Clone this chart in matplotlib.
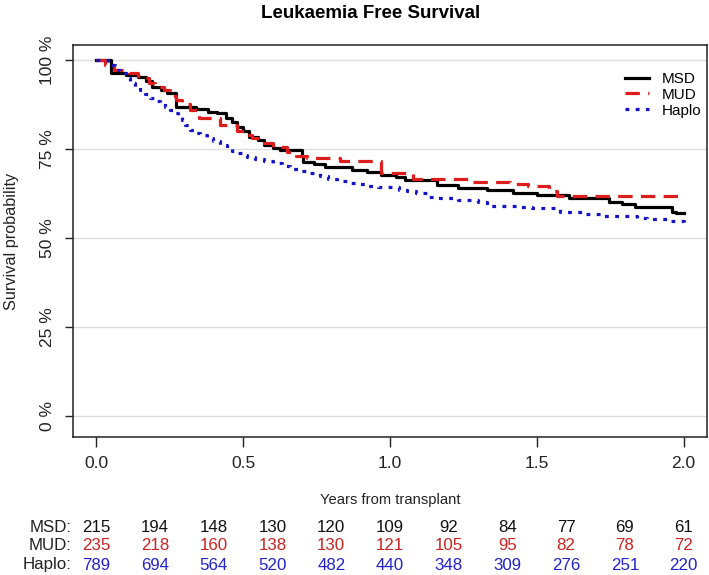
import numpy as np
import matplotlib
matplotlib.use('Agg')
from matplotlib import pyplot as plt
from matplotlib import transforms

plt.rcParams['font.family'] = ['Liberation Sans', 'DejaVu Sans']

# Kaplan-Meier steps (years, survival)
msd_t = [0, 0.05, 0.10, 0.14, 0.17, 0.19, 0.22, 0.24, 0.27, 0.34, 0.38, 0.41, 0.44,
         0.46, 0.48, 0.50, 0.52, 0.55, 0.57, 0.60, 0.625, 0.70, 0.705, 0.74, 0.78,
         0.87, 0.92, 0.97, 1.02, 1.05, 1.16, 1.23, 1.33, 1.42, 1.50, 1.61, 1.745,
         1.79, 1.835, 1.96, 1.975, 2.0]
msd_s = [1.0, 0.963, 0.958, 0.953, 0.94, 0.925, 0.915, 0.906, 0.869, 0.862, 0.855,
         0.85, 0.836, 0.825, 0.813, 0.80, 0.785, 0.775, 0.761, 0.752, 0.747, 0.73,
         0.714, 0.707, 0.70, 0.691, 0.686, 0.677, 0.67, 0.663, 0.649, 0.640, 0.635,
         0.627, 0.621, 0.611, 0.602, 0.595, 0.586, 0.574, 0.569, 0.569]

mud_t = [0, 0.03, 0.06, 0.11, 0.14, 0.16, 0.18, 0.20, 0.23, 0.25, 0.27, 0.29, 0.32,
         0.35, 0.42, 0.48, 0.51, 0.53, 0.557, 0.60, 0.648, 0.68, 0.716, 0.83, 0.97,
         1.08, 1.27, 1.41, 1.47, 1.54, 1.57, 2.0]
mud_s = [1.0, 0.985, 0.972, 0.963, 0.955, 0.948, 0.934, 0.925, 0.916, 0.90, 0.888,
         0.875, 0.86, 0.838, 0.817, 0.80, 0.79, 0.78, 0.766, 0.756, 0.742, 0.73,
         0.724, 0.717, 0.683, 0.667, 0.658, 0.652, 0.646, 0.632, 0.617, 0.617]

haplo_t = [0, 0.04, 0.063, 0.08, 0.10, 0.114, 0.13, 0.148, 0.165, 0.182, 0.20, 0.216,
           0.235, 0.25, 0.265, 0.279, 0.29, 0.30, 0.318, 0.335, 0.353, 0.375, 0.398,
           0.42, 0.444, 0.46, 0.478, 0.495, 0.512, 0.54, 0.57, 0.602, 0.631, 0.659,
           0.693, 0.727, 0.76, 0.79, 0.818, 0.852, 0.886, 0.926, 0.96, 1.03, 1.057,
           1.09, 1.125, 1.16, 1.232, 1.30, 1.33, 1.443, 1.485, 1.58, 1.659, 1.73,
           1.84, 1.875, 1.954, 2.0]
haplo_s = [1.0, 0.985, 0.972, 0.963, 0.948, 0.934, 0.925, 0.916, 0.904, 0.892, 0.885,
           0.878, 0.868, 0.86, 0.85, 0.841, 0.83, 0.817, 0.803, 0.796, 0.789, 0.78,
           0.771, 0.762, 0.752, 0.745, 0.738, 0.733, 0.728, 0.721, 0.715, 0.71, 0.702,
           0.693, 0.688, 0.682, 0.674, 0.666, 0.661, 0.655, 0.652, 0.647, 0.642,
           0.635, 0.632, 0.625, 0.616, 0.611, 0.607, 0.602, 0.591, 0.586, 0.583,
           0.572, 0.567, 0.563, 0.555, 0.552, 0.548, 0.546]

groups = ['MSD', 'MUD', 'Haplo']
line_cols = ['black', '#dd1c1c', '#1414c8']
text_cols = ['#111111', '#cc2222', '#2222cc']

risk_times = [0, 0.2, 0.4, 0.6, 0.8, 1.0, 1.2, 1.4, 1.6, 1.8, 2.0]
risk_msd = [215, 194, 148, 130, 120, 109, 92, 84, 77, 69, 61]
risk_mud = [235, 218, 160, 138, 130, 121, 105, 95, 82, 78, 72]
risk_haplo = [789, 694, 564, 520, 482, 440, 348, 309, 276, 251, 220]

W, H = 709, 575
fig = plt.figure(figsize=(W / 100, H / 100), dpi=100)
ax = fig.add_axes([73 / W, 1 - 437 / H, 634 / W, 392 / H])

ax.step(msd_t, msd_s, where='post', color=line_cols[0], lw=2.3, label='MSD')
ax.step(mud_t, mud_s, where='post', color=line_cols[1], lw=2.3, label='MUD',
        linestyle=(0, (4.5, 2.6)))
ax.step(haplo_t, haplo_s, where='post', color=line_cols[2], lw=2.3, label='Haplo',
        linestyle=(0, (1.2, 2.0)))

ax.set_xlim(-0.08, 2.08)
ax.set_ylim(-0.059, 1.042)
ax.set_xticks([0, 0.5, 1.0, 1.5, 2.0])
ax.set_xticklabels(['0.0', '0.5', '1.0', '1.5', '2.0'])
ax.set_yticks([0, 0.25, 0.5, 0.75, 1.0])
ax.set_yticklabels(['0 %', '25 %', '50 %', '75 %', '100 %'], rotation=90, va='center')
ax.tick_params(axis='x', length=7, width=1, pad=7, labelsize=12.5, colors='#222222')
ax.tick_params(axis='y', length=6, width=1, pad=7, labelsize=12.5, colors='#222222')
ax.grid(axis='y', color='#dddddd', lw=1)
ax.set_axisbelow(True)
for sp in ax.spines.values():
    sp.set_linewidth(1.1)
    sp.set_color('#222222')

# axis titles placed in figure pixels
fig.text(12 / W, 1 - 241 / H, 'Survival probability', rotation=90,
         ha='center', va='center', fontsize=11.7, color='#222222')
fig.text(390 / W, 1 - 500 / H, 'Years from transplant',
         ha='center', va='center', fontsize=10.6, color='#222222')

fig.text(371 / W, 1 - 14 / H, 'Leukaemia Free Survival',
         ha='center', va='center', fontsize=13.5, fontweight='bold')

ax.legend(loc='upper right', bbox_to_anchor=((701 - 73) / 634, (437 - 72) / 392),
          frameon=False, borderpad=0, borderaxespad=0, fontsize=11,
          handlelength=1.6, handletextpad=0.8, labelspacing=0.12)

# numbers at risk table
tr = transforms.blended_transform_factory(ax.transData, fig.transFigure)
rows = [risk_msd, risk_mud, risk_haplo]
row_y = [527, 546, 565]
for g, vals, ty, col in zip(groups, rows, row_y, text_cols):
    fig.text(72 / W, 1 - ty / H, g + ':', ha='right', va='center', fontsize=12.2,
             color='#222222')
    for t, v in zip(risk_times, vals):
        ax.text(t, 1 - ty / H, str(v), transform=tr, ha='center', va='center',
                fontsize=12.2, color=col)

fig.savefig('out.png', dpi=100)
